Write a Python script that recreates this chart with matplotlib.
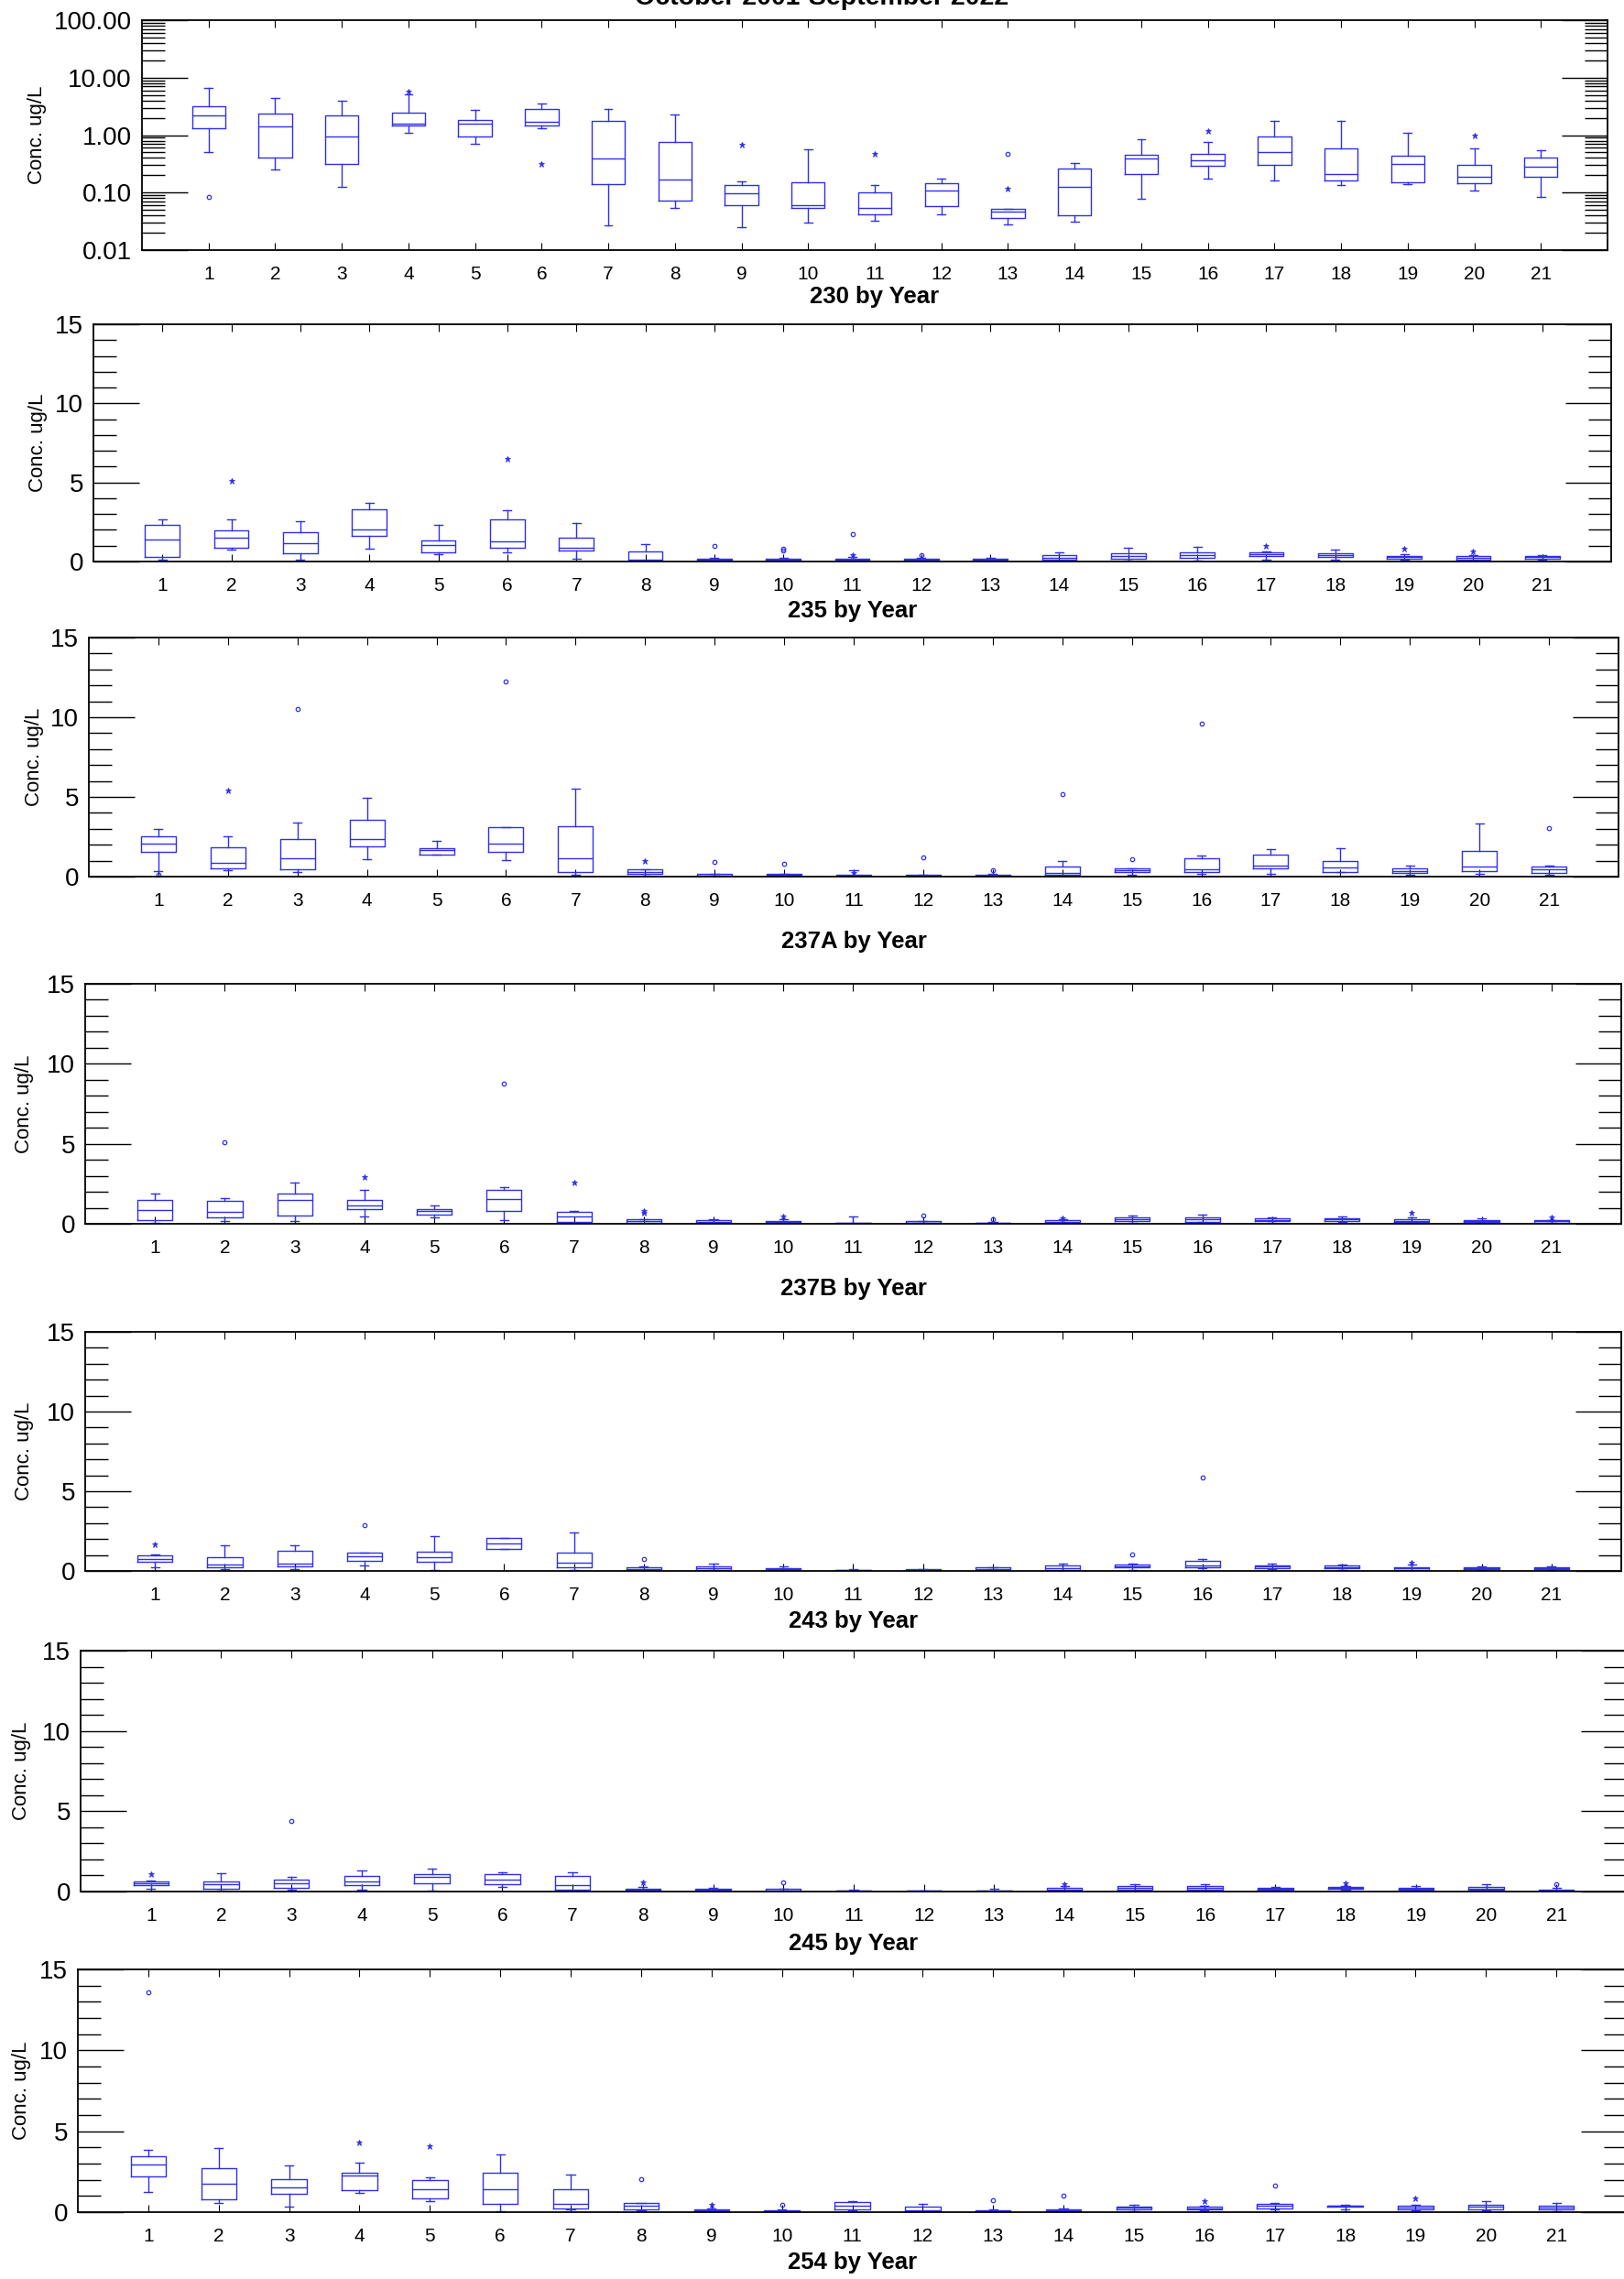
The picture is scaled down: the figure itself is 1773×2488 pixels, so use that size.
import matplotlib
matplotlib.use("Agg")
import matplotlib.pyplot as plt
from matplotlib.ticker import FixedLocator, MultipleLocator, LogLocator, NullFormatter, FuncFormatter

plt.rcParams["font.family"] = ["Liberation Sans", "DejaVu Sans"]

# ---------------- data ----------------
years = list(range(1, 22))

# site 230 (log axis)
lo_230 = [0.515, 0.25, 0.128, 1.09, 0.70, 1.34, 0.027, 0.054, 0.025, 0.030, 0.0325, 0.0426, 0.0277, 0.0317, 0.0787, 0.177, 0.163, 0.133, 0.138, 0.11, 0.083]
q1_230 = [1.34, 0.41, 0.32, 1.46, 0.93, 1.46, 0.142, 0.073, 0.061, 0.054, 0.042, 0.058, 0.0367, 0.040, 0.213, 0.296, 0.308, 0.163, 0.153, 0.147, 0.19]
med_230 = [2.19, 1.41, 0.96, 1.6, 1.6, 1.70, 0.39, 0.17, 0.099, 0.061, 0.054, 0.107, 0.047, 0.128, 0.389, 0.37, 0.50, 0.213, 0.32, 0.188, 0.279]
q3_230 = [3.2, 2.39, 2.17, 2.45, 1.80, 2.8, 1.74, 0.77, 0.135, 0.151, 0.10, 0.147, 0.052, 0.262, 0.456, 0.478, 0.93, 0.58, 0.445, 0.30, 0.40]
hi_230 = [6.7, 4.5, 4.0, 5.06, 2.77, 3.5, 2.8, 2.25, 0.157, 0.575, 0.135, 0.177, 0.052, 0.327, 0.853, 0.753, 1.74, 1.74, 1.08, 0.59, 0.54]
stars_230 = [(4, 5.7), (6, 0.32), (9, 0.67), (11, 0.48), (13, 0.118), (16, 1.19), (20, 0.99)]
circles_230 = [(1, 0.085), (13, 0.48)]

# site 235
lo_235 = [0.1, 0.73, 0.1, 0.81, 0.48, 0.56, 0.17, 0.02, 0.02, 0.02, 0.02, 0.02, 0.02, 0.04, 0.06, 0.08, 0.14, 0.1, 0.12, 0.08, 0.1]
q1_235 = [0.29, 0.87, 0.52, 1.64, 0.56, 0.87, 0.68, 0.08, 0.06, 0.06, 0.06, 0.04, 0.04, 0.1, 0.17, 0.23, 0.33, 0.29, 0.19, 0.14, 0.19]
med_235 = [1.39, 1.49, 1.16, 2.05, 1.06, 1.29, 0.85, 0.14, 0.12, 0.12, 0.12, 0.1, 0.1, 0.23, 0.35, 0.39, 0.48, 0.41, 0.27, 0.23, 0.27]
q3_235 = [2.30, 1.97, 1.85, 3.28, 1.33, 2.64, 1.51, 0.62, 0.17, 0.17, 0.19, 0.15, 0.17, 0.41, 0.5, 0.58, 0.58, 0.52, 0.37, 0.33, 0.35]
hi_235 = [2.64, 2.64, 2.57, 3.71, 2.30, 3.24, 2.43, 1.12, 0.23, 0.23, 0.29, 0.23, 0.23, 0.56, 0.87, 0.91, 0.64, 0.73, 0.46, 0.41, 0.42]
stars_235 = [(2, 5.08), (6, 6.47), (11, 0.42), (17, 1.0), (19, 0.79), (20, 0.66)]
circles_235 = [(9, 1.0), (10, 0.81), (10, 0.71), (11, 1.76), (12, 0.42)]

# site 237A
lo_237a = [0.33, 0.38, 0.27, 1.11, 1.38, 1.05, 0.1, 0.06, 0.02, 0.02, 0.01, 0.02, 0.02, 0.04, 0.11, 0.17, 0.15, 0.27, 0.1, 0.15, 0.11]
q1_237a = [1.55, 0.50, 0.48, 1.89, 1.38, 1.57, 0.29, 0.15, 0.04, 0.04, 0.02, 0.04, 0.04, 0.13, 0.27, 0.27, 0.5, 0.29, 0.23, 0.34, 0.23]
med_237a = [2.07, 0.84, 1.15, 2.37, 1.66, 2.07, 1.13, 0.27, 0.08, 0.1, 0.06, 0.08, 0.06, 0.25, 0.38, 0.48, 0.71, 0.55, 0.36, 0.63, 0.48]
q3_237a = [2.53, 1.82, 2.35, 3.56, 1.76, 3.12, 3.14, 0.46, 0.15, 0.15, 0.1, 0.11, 0.1, 0.63, 0.50, 1.15, 1.38, 0.98, 0.52, 1.61, 0.63]
hi_237a = [2.97, 2.53, 3.39, 4.96, 2.24, 3.12, 5.53, 0.46, 0.19, 0.17, 0.42, 0.13, 0.17, 0.98, 0.52, 1.32, 1.74, 1.76, 0.69, 3.33, 0.67]
stars_237a = [(2, 5.38), (8, 0.99), (11, 0.23)]
circles_237a = [(1, 0.11), (3, 10.5), (6, 12.24), (9, 0.92), (10, 0.78), (12, 1.22), (13, 0.38),
                (14, 5.17), (15, 1.09), (16, 9.6), (21, 3.02)]

# site 237B
lo_237b = [0.08, 0.17, 0.19, 0.44, 0.40, 0.25, 0.04, 0.02, 0.02, 0.02, 0.0, 0.02, 0.0, 0.02, 0.08, 0.1, 0.08, 0.1, 0.06, 0.04, 0.04]
q1_237b = [0.23, 0.38, 0.50, 0.94, 0.59, 0.80, 0.13, 0.06, 0.04, 0.04, 0.02, 0.04, 0.02, 0.06, 0.15, 0.13, 0.15, 0.15, 0.11, 0.1, 0.08]
med_237b = [0.86, 0.76, 1.47, 1.16, 0.78, 1.56, 0.48, 0.15, 0.11, 0.1, 0.04, 0.08, 0.04, 0.13, 0.27, 0.27, 0.25, 0.27, 0.19, 0.17, 0.15]
q3_237b = [1.47, 1.45, 1.91, 1.47, 0.92, 2.12, 0.76, 0.27, 0.23, 0.19, 0.08, 0.15, 0.08, 0.23, 0.42, 0.38, 0.34, 0.36, 0.31, 0.25, 0.21]
hi_237b = [1.89, 1.60, 2.56, 2.12, 1.13, 2.31, 0.82, 0.31, 0.27, 0.27, 0.46, 0.19, 0.1, 0.27, 0.53, 0.55, 0.42, 0.48, 0.38, 0.32, 0.25]
stars_237b = [(4, 2.9), (7, 2.58), (8, 0.78), (8, 0.7), (10, 0.48), (14, 0.32), (19, 0.67), (21, 0.42)]
circles_237b = [(2, 5.1), (6, 8.78), (12, 0.52), (13, 0.27)]

# site 243
lo_243 = [0.21, 0.1, 0.13, 0.34, 0.06, 1.36, 0.08, 0.02, 0.04, 0.02, 0.02, 0.02, 0.02, 0.02, 0.06, 0.15, 0.11, 0.06, 0.02, 0.08, 0.06]
q1_243 = [0.55, 0.25, 0.29, 0.63, 0.55, 1.36, 0.23, 0.04, 0.08, 0.04, 0.02, 0.04, 0.04, 0.06, 0.21, 0.21, 0.15, 0.15, 0.06, 0.11, 0.11]
med_243 = [0.76, 0.38, 0.44, 0.92, 0.86, 1.70, 0.52, 0.1, 0.17, 0.1, 0.04, 0.08, 0.11, 0.17, 0.31, 0.34, 0.27, 0.25, 0.15, 0.19, 0.17]
q3_243 = [0.96, 0.86, 1.24, 1.13, 1.22, 2.06, 1.15, 0.23, 0.29, 0.15, 0.08, 0.11, 0.21, 0.34, 0.40, 0.63, 0.34, 0.34, 0.25, 0.25, 0.25]
hi_243 = [1.01, 1.61, 1.59, 1.17, 2.2, 2.06, 2.41, 0.31, 0.46, 0.27, 0.11, 0.11, 0.25, 0.46, 0.44, 0.75, 0.48, 0.42, 0.38, 0.29, 0.27]
stars_243 = [(1, 1.66), (19, 0.5)]
circles_243 = [(4, 2.9), (8, 0.73), (15, 1.03), (16, 5.87)]

# site 245
lo_245 = [0.17, 0.06, 0.09, 0.13, 0.06, 0.30, 0.06, 0.02, 0.02, 0.02, 0.0, 0.0, 0.0, 0.02, 0.06, 0.06, 0.04, 0.09, 0.04, 0.06, 0.02]
q1_245 = [0.38, 0.19, 0.23, 0.38, 0.51, 0.46, 0.11, 0.04, 0.04, 0.04, 0.02, 0.02, 0.02, 0.06, 0.11, 0.11, 0.09, 0.15, 0.09, 0.09, 0.04]
med_245 = [0.51, 0.47, 0.51, 0.63, 0.91, 0.74, 0.42, 0.09, 0.09, 0.08, 0.04, 0.04, 0.04, 0.11, 0.25, 0.23, 0.17, 0.21, 0.15, 0.17, 0.08]
q3_245 = [0.63, 0.61, 0.74, 0.99, 1.06, 1.08, 0.97, 0.19, 0.17, 0.15, 0.08, 0.08, 0.08, 0.25, 0.36, 0.34, 0.25, 0.28, 0.21, 0.30, 0.13]
hi_245 = [0.68, 1.16, 0.91, 1.31, 1.42, 1.19, 1.19, 0.30, 0.25, 0.19, 0.1, 0.08, 0.17, 0.34, 0.46, 0.44, 0.30, 0.32, 0.34, 0.44, 0.2]
stars_245 = [(1, 1.06), (8, 0.55), (14, 0.44), (18, 0.51)]
circles_245 = [(3, 4.42), (10, 0.55), (21, 0.47)]

# site 254
lo_254 = [1.23, 0.59, 0.32, 1.17, 0.66, 0.08, 0.15, 0.13, 0.02, 0.02, 0.13, 0.02, 0.02, 0.02, 0.08, 0.11, 0.15, 0.17, 0.11, 0.11, 0.08]
q1_254 = [2.21, 0.81, 1.15, 1.38, 0.83, 0.49, 0.21, 0.19, 0.06, 0.04, 0.19, 0.06, 0.04, 0.06, 0.17, 0.17, 0.23, 0.34, 0.17, 0.19, 0.19]
med_254 = [2.97, 1.74, 1.55, 2.25, 1.40, 1.44, 0.49, 0.42, 0.11, 0.08, 0.42, 0.09, 0.08, 0.11, 0.26, 0.25, 0.42, 0.38, 0.26, 0.36, 0.28]
q3_254 = [3.44, 2.74, 2.06, 2.46, 2.0, 2.46, 1.44, 0.55, 0.17, 0.13, 0.64, 0.32, 0.13, 0.19, 0.36, 0.36, 0.53, 0.42, 0.42, 0.47, 0.38]
hi_254 = [3.86, 3.99, 2.91, 3.08, 2.16, 3.56, 2.31, 0.59, 0.23, 0.15, 0.70, 0.53, 0.15, 0.25, 0.47, 0.40, 0.57, 0.47, 0.45, 0.68, 0.57]
stars_254 = [(4, 4.33), (5, 4.10), (9, 0.45), (16, 0.70), (19, 0.83)]
circles_254 = [(1, 13.58), (8, 2.04), (10, 0.45), (13, 0.72), (14, 1.04), (17, 1.63)]

# ---------------- layout (pixels in the 1774x2488 canvas) ----------------
W, H = 1774, 2488
BLUE = "#2f2fe8"

# name, data, frame (left, top, right, bottom), xlabel y, ylabel x
panels = [
    ("230", (lo_230, q1_230, med_230, q3_230, hi_230), stars_230, circles_230, (155, 22, 1755, 273), 324, 41),
    ("235", (lo_235, q1_235, med_235, q3_235, hi_235), stars_235, circles_235, (102, 354, 1759, 613), 667, 42),
    ("237A", (lo_237a, q1_237a, med_237a, q3_237a, hi_237a), stars_237a, circles_237a, (97, 696, 1767, 957), 1028, 37),
    ("237B", (lo_237b, q1_237b, med_237b, q3_237b, hi_237b), stars_237b, circles_237b, (93, 1074, 1770, 1336), 1407, 27),
    ("243", (lo_243, q1_243, med_243, q3_243, hi_243), stars_243, circles_243, (93, 1454, 1770, 1715), 1770, 27),
    ("245", (lo_245, q1_245, med_245, q3_245, hi_245), stars_245, circles_245, (88, 1802, 1776, 2065), 2122, 24),
    ("254", (lo_254, q1_254, med_254, q3_254, hi_254), stars_254, circles_254, (85, 2150, 1776, 2415), 2470, 24),
]

fig = plt.figure(figsize=(W / 100, H / 100), dpi=100)

# the page title sits mostly above the top edge, as in the source
fig.text(897 / W, 1 - 5 / H, "October 2001-September 2022", ha="center", va="baseline",
         fontsize=20.5, fontweight="bold")

for i, (name, (lo, q1, med, q3, hi), stars, circles, (l, t, r, b), xl_y, yl_x) in enumerate(panels):
    ax = fig.add_axes([l / W, 1 - b / H, (r - l) / W, (b - t) / H])

    stats = []
    for k in range(len(years)):
        stats.append(dict(whislo=lo[k], q1=q1[k], med=med[k], q3=q3[k], whishi=hi[k], fliers=[]))
    line = dict(color=BLUE, linewidth=1.0)
    ax.bxp(stats, positions=years, widths=0.5, capwidths=0.12, showfliers=False,
           boxprops=line, whiskerprops=line, capprops=line, medianprops=line)

    if stars:
        ax.plot([p[0] for p in stars], [p[1] for p in stars], linestyle="none", marker="*",
                markersize=5, color=BLUE, markeredgewidth=0.6)
    if circles:
        ax.plot([p[0] for p in circles], [p[1] for p in circles], linestyle="none", marker="o",
                markersize=3.2, markerfacecolor="none", markeredgecolor=BLUE, markeredgewidth=0.9)

    ax.set_xlim(0, 22)
    ax.xaxis.set_major_locator(FixedLocator(years))
    ax.set_xticklabels([str(y) for y in years])

    if i == 0:
        ax.set_yscale("log")
        ax.set_ylim(0.01, 100)
        ax.yaxis.set_major_locator(FixedLocator([0.01, 0.1, 1, 10, 100]))
        ax.yaxis.set_major_formatter(FuncFormatter(lambda v, p: "%.2f" % v))
        ax.yaxis.set_minor_locator(LogLocator(base=10, subs=range(2, 10)))
        ax.yaxis.set_minor_formatter(NullFormatter())
    else:
        ax.set_ylim(0, 15)
        ax.yaxis.set_major_locator(FixedLocator([0, 5, 10, 15]))
        ax.yaxis.set_minor_locator(MultipleLocator(1))

    ax.tick_params(axis="x", which="major", direction="in", length=5.8, width=0.8,
                   top=True, bottom=True, labelsize=15, pad=12)
    ax.tick_params(axis="x", which="minor", length=0)
    ax.tick_params(axis="y", which="major", direction="in", length=36, width=1.0,
                   left=True, right=True, labelsize=20, pad=8)
    ax.tick_params(axis="y", which="minor", direction="in", length=18, width=1.0,
                   left=True, right=True)
    for s in ax.spines.values():
        s.set_linewidth(1.3)

    fig.text((l + r) / 2 / W, 1 - xl_y / H, name + " by Year", ha="center", va="center",
             fontsize=18.5, fontweight="bold")
    fig.text(yl_x / W, 1 - (t + b) / 2 / H, "Conc. ug/L", rotation=90, ha="center",
             va="center", fontsize=16)

fig.savefig("out.png", dpi=100)
